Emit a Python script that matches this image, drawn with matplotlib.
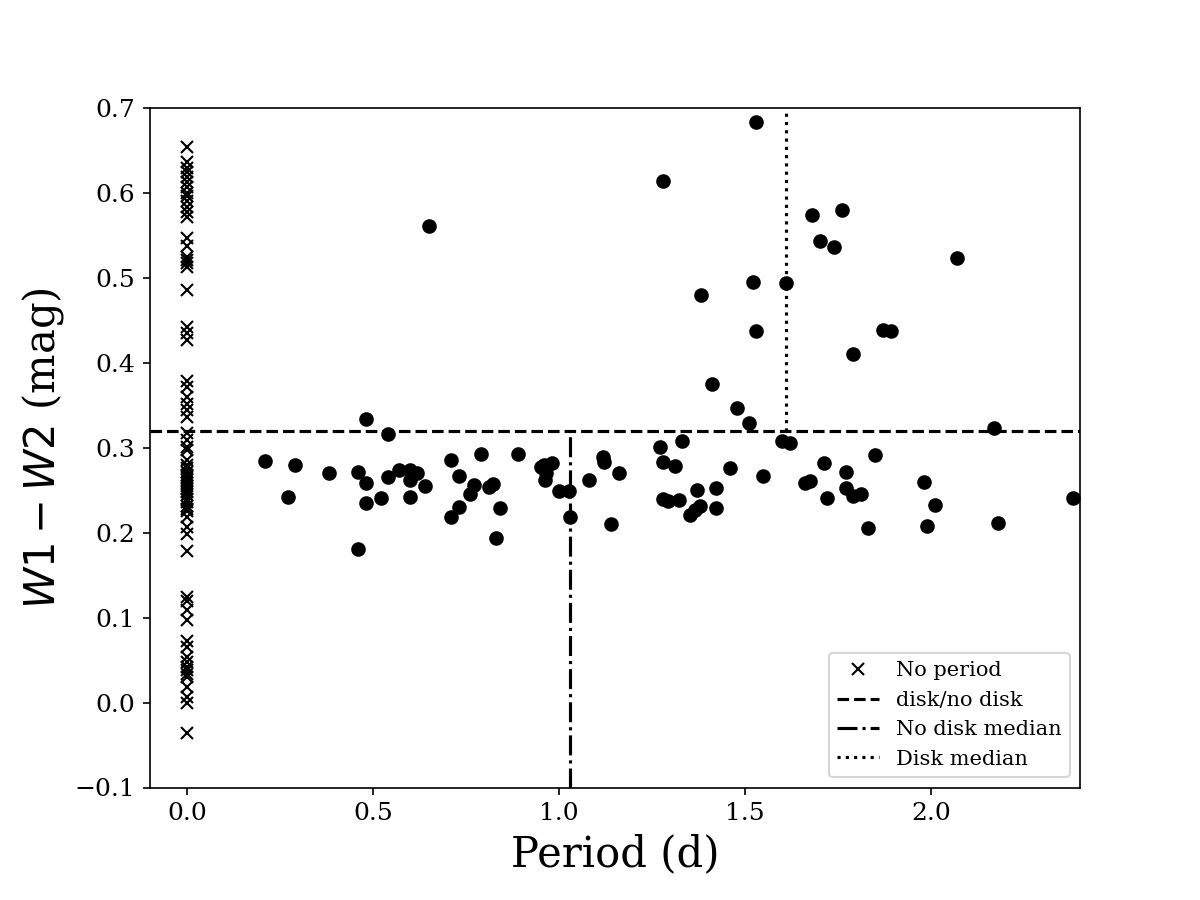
import numpy as np
import matplotlib
matplotlib.use('Agg')
import matplotlib.pyplot as plt

plt.rcParams['font.family'] = 'serif'

# stars with no detected period (plotted at P = 0)
noper_w12 = [0.654, 0.637, 0.629, 0.625, 0.619, 0.613, 0.607, 0.600, 0.596, 0.590,
             0.584, 0.578, 0.572, 0.547, 0.537, 0.525, 0.521, 0.517, 0.513, 0.486,
             0.442, 0.435, 0.427, 0.378, 0.372, 0.360, 0.352, 0.344, 0.336, 0.317,
             0.309, 0.301, 0.297, 0.285, 0.280, 0.276, 0.272, 0.268, 0.265, 0.262,
             0.258, 0.255, 0.251, 0.248, 0.244, 0.240, 0.236, 0.232, 0.228, 0.225,
             0.219, 0.207, 0.199, 0.179, 0.124, 0.120, 0.109, 0.097, 0.073, 0.065,
             0.054, 0.048, 0.042, 0.038, 0.034, 0.030, 0.018, 0.007, -0.001, -0.036]

# stars with a measured rotation period
period = [0.21, 0.27, 0.29, 0.38, 0.46, 0.48, 0.48, 0.48, 0.46, 0.52,
          0.54, 0.54, 0.57, 0.60, 0.60, 0.617, 0.60, 0.64, 0.65, 0.71,
          0.73, 0.77, 0.76, 0.73, 0.71, 0.79, 0.81, 0.822, 0.84, 0.831,
          0.89, 0.95, 0.96, 0.98, 0.965, 0.962, 1.0, 1.025, 1.03, 1.08,
          1.119, 1.121, 1.16, 1.14, 1.27, 1.33, 1.279, 1.31, 1.279, 1.292,
          1.321, 1.37, 1.352, 1.366, 1.379, 1.421, 1.421, 1.46, 1.479, 1.511,
          1.549, 1.599, 1.621, 1.661, 1.673, 1.711, 1.719, 1.771, 1.771, 1.789,
          1.811, 1.83, 1.85, 1.98, 2.009, 1.989, 2.17, 2.18, 2.38, 1.53,
          1.28, 1.679, 1.76, 1.70, 1.74, 1.521, 1.609, 1.381, 1.53, 1.87,
          1.892, 1.791, 1.41, 2.07]
per_w12 = [0.284, 0.242, 0.280, 0.270, 0.272, 0.334, 0.259, 0.235, 0.181, 0.241,
           0.316, 0.266, 0.274, 0.274, 0.262, 0.270, 0.242, 0.255, 0.561, 0.286,
           0.267, 0.256, 0.245, 0.230, 0.219, 0.293, 0.254, 0.257, 0.229, 0.194,
           0.293, 0.277, 0.280, 0.282, 0.270, 0.262, 0.249, 0.249, 0.219, 0.262,
           0.289, 0.283, 0.270, 0.210, 0.301, 0.308, 0.283, 0.278, 0.240, 0.237,
           0.238, 0.250, 0.221, 0.227, 0.231, 0.253, 0.229, 0.276, 0.347, 0.329,
           0.267, 0.308, 0.306, 0.258, 0.261, 0.282, 0.241, 0.272, 0.253, 0.243,
           0.246, 0.206, 0.291, 0.260, 0.233, 0.208, 0.323, 0.211, 0.241, 0.683,
           0.614, 0.574, 0.580, 0.543, 0.536, 0.495, 0.494, 0.480, 0.437, 0.439,
           0.438, 0.410, 0.375, 0.523]

disk_cut = 0.32
nodisk_median = 1.03
disk_median = 1.61

fig = plt.figure(figsize=(8, 6), dpi=150)
fig.subplots_adjust(bottom=0.125)
ax = fig.add_subplot(111)

ax.plot(np.zeros(len(noper_w12)), noper_w12, 'kx', label='No period')
ax.plot(period, per_w12, 'ko')

ax.axhline(disk_cut, color='k', ls='--', lw=1.5, label='disk/no disk')
ax.plot([nodisk_median, nodisk_median], [-0.1, disk_cut], 'k-.', lw=1.5, label='No disk median')
ax.plot([disk_median, disk_median], [disk_cut, 0.7], 'k:', lw=1.5, label='Disk median')

ax.set_xlim(-0.1, 2.4)
ax.set_ylim(-0.1, 0.7)
ax.set_xlabel('Period (d)', fontsize=20)
ax.set_ylabel('$W1 - W2$ (mag)', fontsize=20)
ax.tick_params(labelsize=12)
ax.legend(loc='lower right')

plt.savefig('out.png', dpi=150)
